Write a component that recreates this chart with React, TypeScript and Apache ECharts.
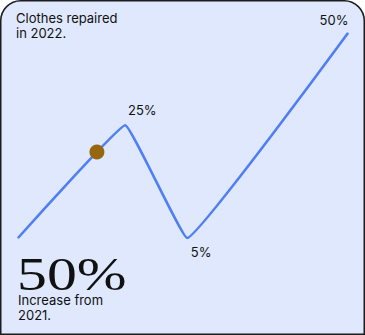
import React, { useEffect, useRef } from "react";
import * as echarts from "echarts";

const monthsX = [0, 3.9, 6.15, 12];
const levels = [0, 55, 0, 100];
const pointLabels = ["", "25%", "5%", "50%"];
const markerPoint = [2.87, 42];
const titleLines = ["Clothes repaired", "in 2022."];
const bigStat = "50%";
const subLines = ["Increase from", "2021."];

const labelOffsets: [number, number][] = [[0, 0], [17, -3], [14, 2], [-14, -1]];
const labelPositions = ["top", "top", "bottom", "top"];

export default function App() {
  const ref = useRef<HTMLDivElement>(null);
  useEffect(() => {
    document.body.style.margin = "0";
    const chart = echarts.init(ref.current!, null, { renderer: "svg" });
    const lineData = monthsX.map((x, i) => ({
      value: [x, levels[i]],
      label: {
        show: pointLabels[i] !== "",
        formatter: pointLabels[i],
        position: labelPositions[i] as any,
        offset: labelOffsets[i],
      },
    }));
    chart.setOption({
      animation: false,
      backgroundColor: "transparent",
      grid: { left: 18, right: 17, top: 33, bottom: 97 },
      xAxis: { type: "value", min: 0, max: 12, show: false },
      yAxis: { type: "value", min: 0, max: 100, show: false },
      graphic: [
        {
          type: "rect",
          z: -10,
          shape: { x: 0.75, y: 0.75, width: 363.5, height: 333.5, r: [20, 20, 0, 0] },
          style: { fill: "#dfe8fc", stroke: "#1c1c1c", lineWidth: 1.5 },
        },
        {
          type: "text",
          left: 16,
          top: 10,
          z: 10,
          style: {
            text: titleLines.join("\n"),
            fontFamily: "Inter",
            fontSize: 13,
            lineHeight: 15,
            fill: "#111",
          },
        },
        {
          type: "text",
          x: 17,
          y: 251,
          z: 10,
          scaleX: 1.3,
          style: {
            text: bigStat,
            fontFamily: "Liberation Serif",
            fontSize: 46,
            fill: "#111",
          },
        },
        {
          type: "text",
          left: 18,
          top: 292,
          z: 10,
          style: {
            text: subLines.join("\n"),
            fontFamily: "Inter",
            fontSize: 13,
            lineHeight: 15,
            fill: "#111",
          },
        },
      ],
      series: [
        {
          type: "line",
          data: lineData,
          smooth: 0.07,
          symbol: "circle",
          symbolSize: 1,
          showSymbol: true,
          itemStyle: { color: "#4f7ef5" },
          lineStyle: { color: "#4f7ef5", width: 2.6 },
          label: {
            color: "#111",
            fontFamily: "Inter",
            fontSize: 13,
          },
          z: 2,
        },
        {
          type: "scatter",
          data: [markerPoint],
          symbolSize: 15,
          itemStyle: { color: "#976710", opacity: 1 },
          z: 3,
        },
      ],
    });
    return () => chart.dispose();
  }, []);
  return <div ref={ref} style={{ width: 365, height: 335 }} />;
}
